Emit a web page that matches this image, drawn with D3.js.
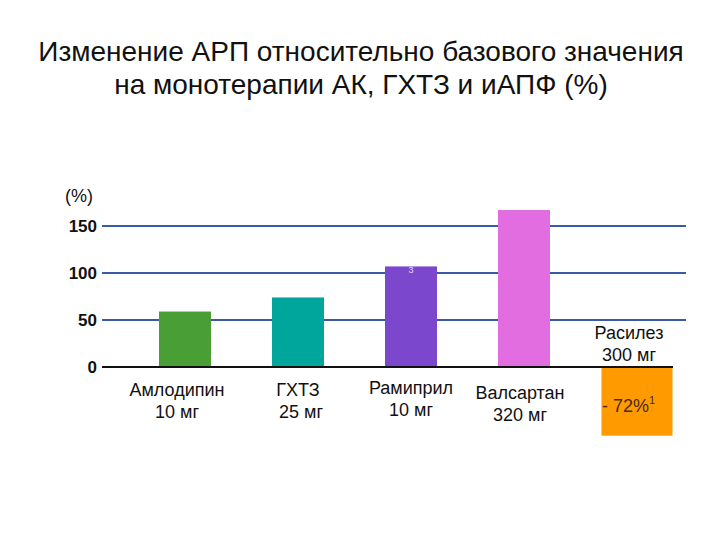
<!DOCTYPE html>
<html>
<head>
<meta charset="utf-8">
<script src="https://cdn.jsdelivr.net/npm/d3@7"></script>
<style>
  body { margin: 0; background: #fff; }
  text { font-family: "Liberation Sans", Arial, sans-serif; }
</style>
</head>
<body>
<svg class="chart" width="720" height="540"></svg>
<script>
// chart data
var drugs = ["Амлодипин", "ГХТЗ", "Рамиприл", "Валсартан", "Расилез"];
var doses = ["10 мг", "25 мг", "10 мг", "320 мг", "300 мг"];
var values = [59, 74, 107, 167, -72];
var colors = ["#4a9e36", "#00a69c", "#7b47cc", "#e26de0", "#ff9a00"];
var yTicks = [0, 50, 100, 150];

var chart = d3.select(".chart");

function addText(x, y, str, size, anchor) {
  return chart.append("text")
      .attr("x", x)
      .attr("y", y)
      .attr("text-anchor", anchor || "middle")
      .attr("font-size", size)
      .attr("fill", "#111")
      .text(str);
}

// title
addText(361, 61, "Изменение АРП относительно базового значения", 28);
addText(361, 94, "на монотерапии АК, ГХТЗ и иАПФ (%)", 28);

var yScale = d3.scaleLinear()
    .domain([0, 150])
    .range([367, 226]);

var xScale = d3.scalePoint()
    .domain(drugs)
    .range([185, 637]);

// gridlines
chart.append("g")
    .selectAll("line")
    .data(yTicks.filter(function(d){ return d > 0; }))
    .enter().append("line")
    .attr("x1", 102)
    .attr("x2", 686)
    .attr("y1", function(d){ return yScale(d); })
    .attr("y2", function(d){ return yScale(d); })
    .attr("stroke", "#3a5aa8")
    .attr("stroke-width", 2);

// y axis labels
yTicks.forEach(function(d){
  addText(97, yScale(d) + 6, d, 17, "end").attr("font-weight", "bold");
});
addText(65, 202, "(%)", 18, "start");

// bars
chart.append("g")
    .selectAll("rect")
    .data(values)
    .enter().append("rect")
    .attr("x", function(d, i){
      var w = d < 0 ? 71 : 52;
      return xScale(drugs[i]) - w/2;
    })
    .attr("width", function(d){ return d < 0 ? 71 : 52; })
    .attr("y", function(d){ return d < 0 ? yScale(0) + 1 : yScale(d); })
    .attr("height", function(d){ return Math.abs(yScale(d) - yScale(0)); })
    .attr("fill", function(d, i){ return colors[i]; });

// zero line
chart.append("line")
    .attr("x1", 102)
    .attr("x2", 673)
    .attr("y1", yScale(0))
    .attr("y2", yScale(0))
    .attr("stroke", "#111")
    .attr("stroke-width", 2);

// category labels
var labelY = [396, 396, 394, 399, 339];
drugs.forEach(function(name, i){
  var cx = xScale(name) + (i == 0 ? -8 : i == 4 ? -8 : i == 3 ? -4 : 0);
  addText(cx, labelY[i], name, 18);
  addText(cx + (i == 1 ? 3 : 0), labelY[i] + 22, doses[i], 18);
});

// small reference mark on ramipril bar
chart.append("text")
    .attr("x", xScale(drugs[2]))
    .attr("y", yScale(values[2]) + 7)
    .attr("text-anchor", "middle")
    .attr("font-size", 9)
    .attr("fill", "#e8dcf8")
    .text("3");

// value label for the negative bar
var neg = addText(xScale(drugs[4]) - 35, 412, "", 18, "start").attr("fill", "#4a2a10");
neg.append("tspan").text("- " + Math.abs(values[4]) + "%");
neg.append("tspan").attr("font-size", 11).attr("dy", -8).text("1");
</script>
</body>
</html>
